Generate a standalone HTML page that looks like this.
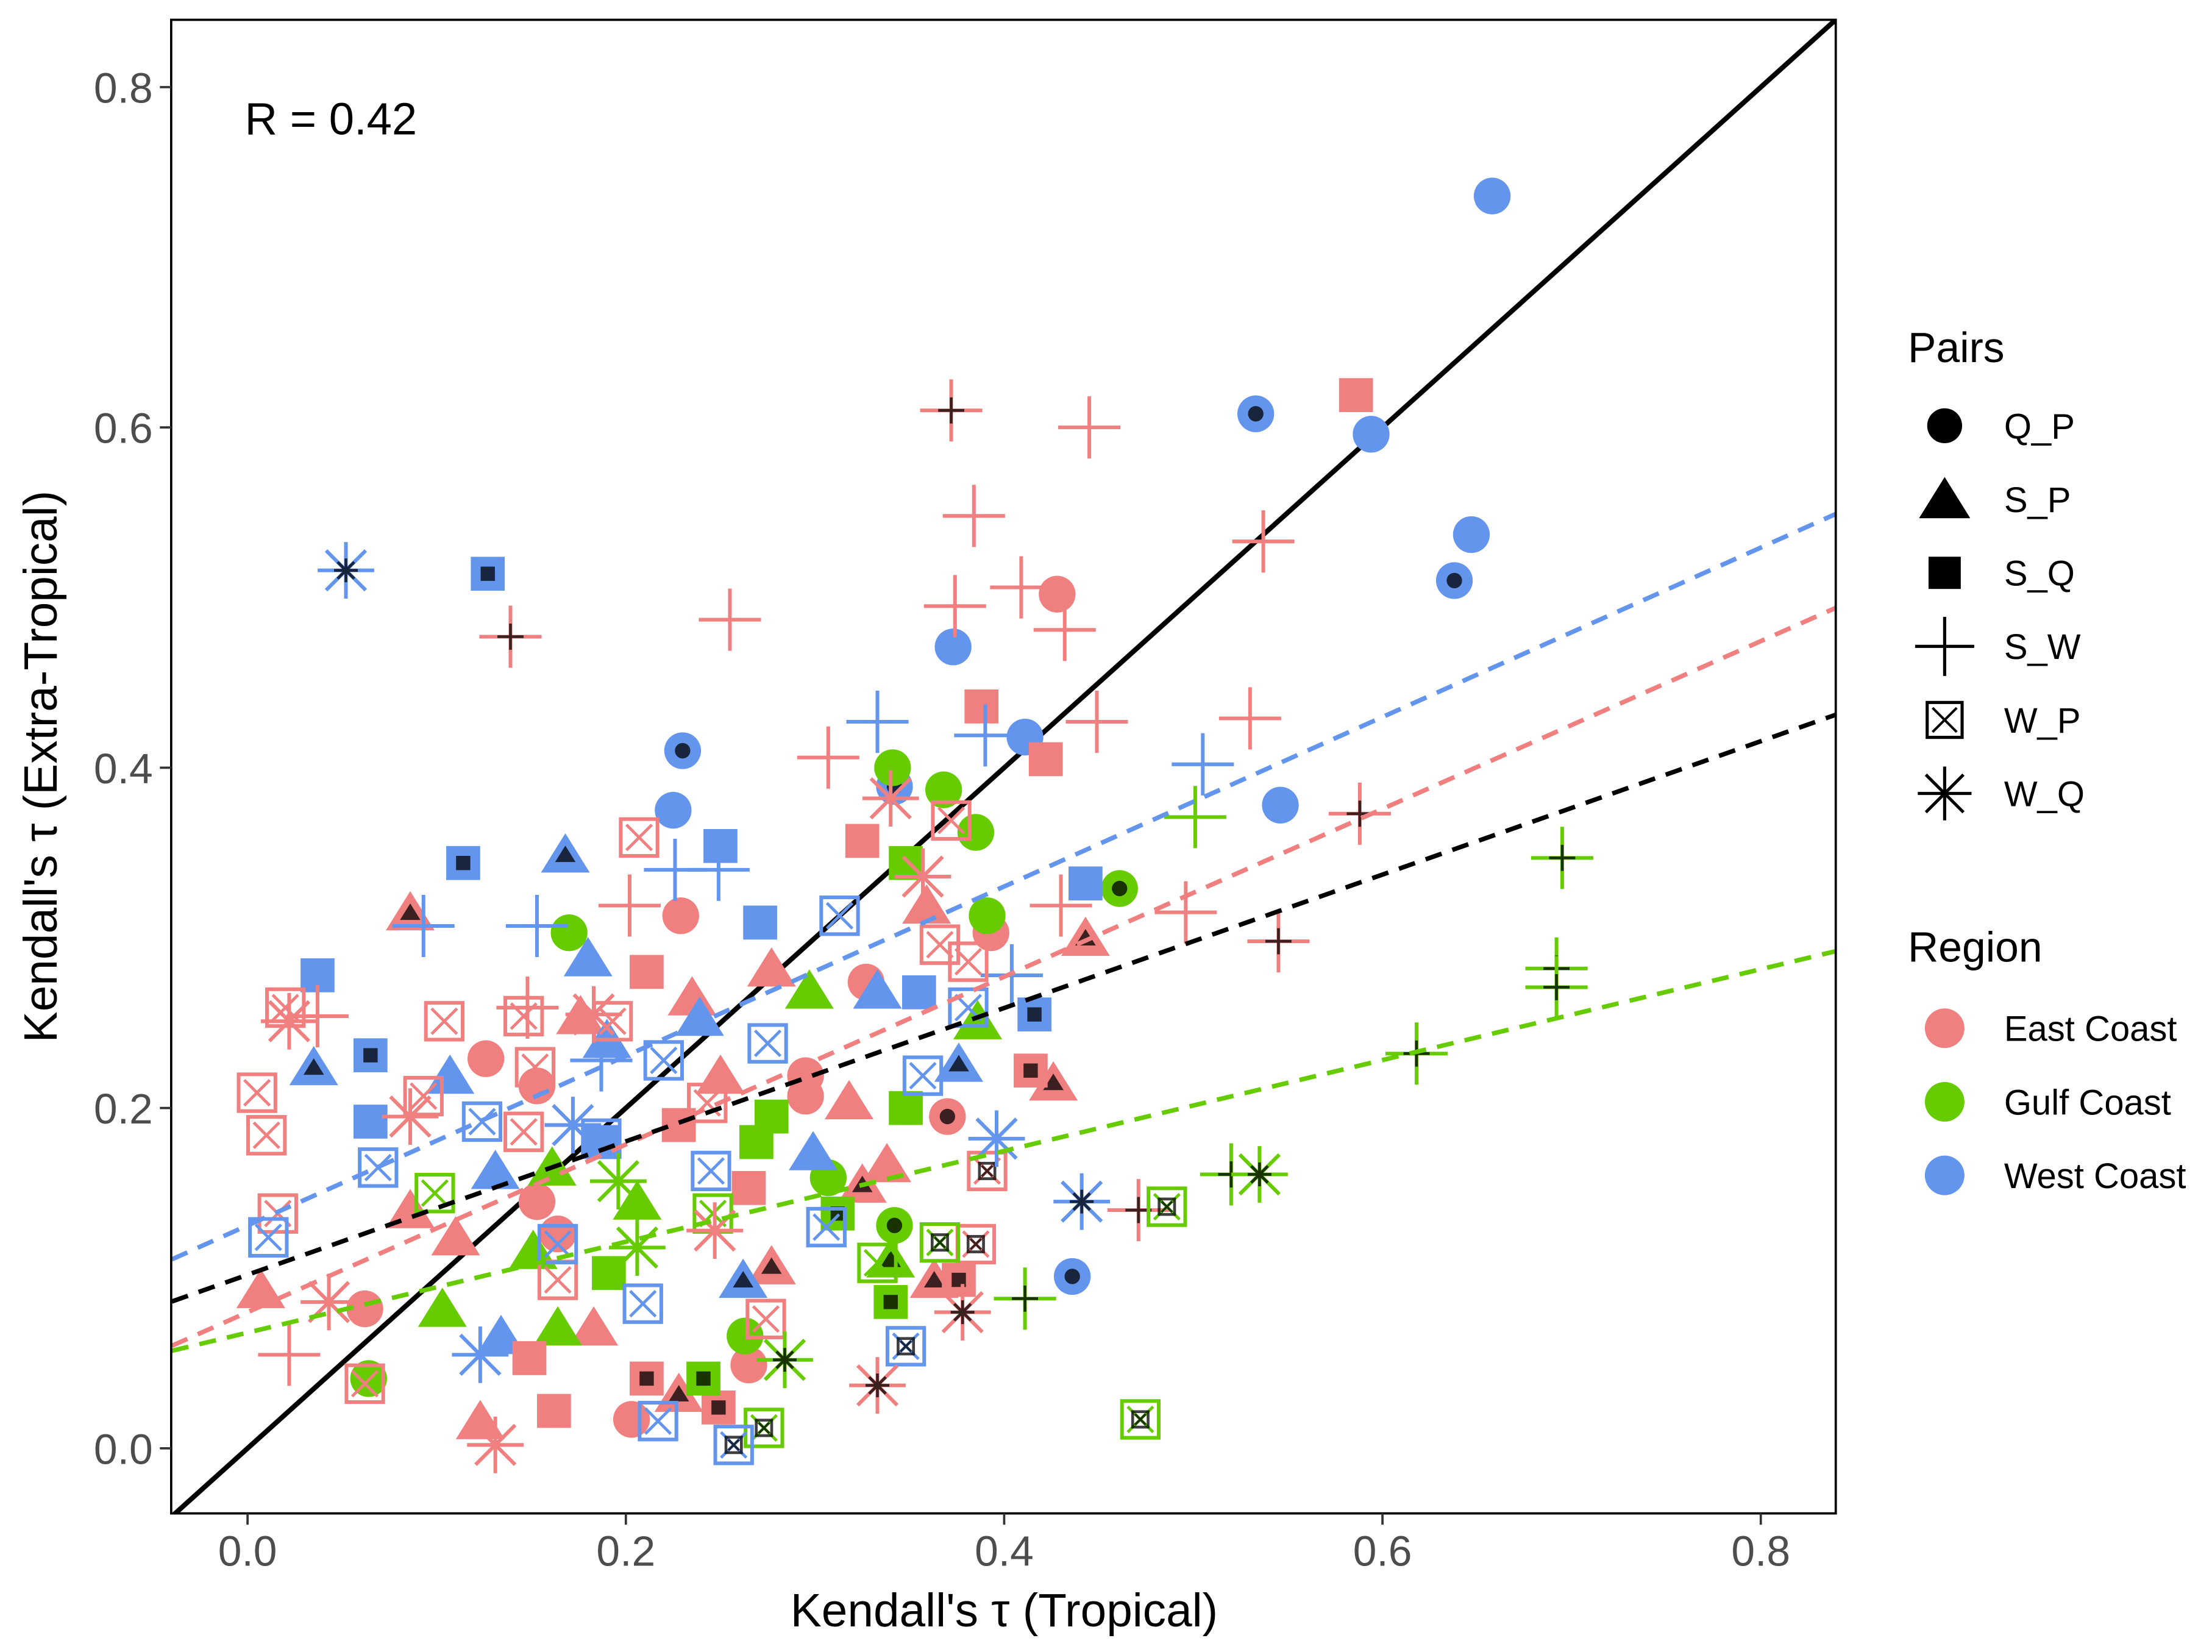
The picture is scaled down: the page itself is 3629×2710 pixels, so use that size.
<!DOCTYPE html>
<html><head><meta charset="utf-8"><style>html,body{margin:0;padding:0;background:#fff}svg{display:block}</style></head>
<body>
<svg id="chart" width="3629" height="2710" viewBox="0 0 1564 1168" xmlns="http://www.w3.org/2000/svg" font-family="Liberation Sans, sans-serif">
<rect width="1564" height="1168" fill="#fff"/>
<defs><clipPath id="pc"><rect x="121" y="14" width="1177" height="1056"/></clipPath></defs>
<g id="plot" clip-path="url(#pc)"></g>
<rect x="121" y="14" width="1177" height="1056" fill="none" stroke="#000" stroke-width="1.6"/>
<g id="axes"></g>
<text x="173" y="95" font-size="32">R =  0.42</text>
<text x="710" y="1150" font-size="33" text-anchor="middle">Kendall's τ (Tropical)</text>
<text transform="translate(40,542) rotate(-90)" font-size="33" text-anchor="middle">Kendall's τ (Extra-Tropical)</text>
<g id="legend"></g>
</svg>
<script>
const xTicks=[0.0,0.2,0.4,0.6,0.8];
const yTicks=[0.0,0.2,0.4,0.6,0.8];
const tickLabels=['0.0','0.2','0.4','0.6','0.8'];
const pairTypes=['Q_P','S_P','S_Q','S_W','W_P','W_Q'];
const regionNames=['East Coast','Gulf Coast','West Coast'];
const regionColors={E:'#F08080',G:'#66CC00',W:'#6495ED'};
const fitIntercepts=[0.131,0.080,0.102,0.068];
const fitSlopes=[0.498,0.493,0.392,0.267];
const fitColors=['#6495ED','#F08080','#000','#66CC00'];
// [tropical, extratropical, pair, region, significant]
const points=[
[0.658,0.736,'Q_P','W',0],[0.594,0.596,'Q_P','W',0],[0.647,0.537,'Q_P','W',0],[0.638,0.510,'Q_P','W',1],[0.533,0.608,'Q_P','W',1],[0.373,0.471,'Q_P','W',0],[0.411,0.418,'Q_P','W',0],[0.546,0.378,'Q_P','W',0],[0.230,0.410,'Q_P','W',1],[0.225,0.375,'Q_P','W',0],[0.342,0.389,'Q_P','W',1],[0.436,0.101,'Q_P','W',1],
[0.428,0.502,'Q_P','E',0],[0.229,0.313,'Q_P','E',0],[0.327,0.274,'Q_P','E',0],[0.393,0.303,'Q_P','E',0],[0.126,0.229,'Q_P','E',0],[0.153,0.213,'Q_P','E',0],[0.062,0.082,'Q_P','E',0],[0.203,0.017,'Q_P','E',0],[0.295,0.219,'Q_P','E',0],[0.295,0.207,'Q_P','E',0],[0.153,0.145,'Q_P','E',0],[0.164,0.126,'Q_P','E',0],[0.265,0.049,'Q_P','E',0],[0.370,0.195,'Q_P','E',1],
[0.341,0.400,'Q_P','G',0],[0.368,0.387,'Q_P','G',0],[0.385,0.362,'Q_P','G',0],[0.170,0.303,'Q_P','G',0],[0.391,0.313,'Q_P','G',0],[0.461,0.329,'Q_P','G',1],[0.307,0.159,'Q_P','G',0],[0.342,0.131,'Q_P','G',1],[0.263,0.066,'Q_P','G',0],[0.064,0.041,'Q_P','G',0],
[0.086,0.315,'S_P','E',1],[0.443,0.300,'S_P','E',1],[0.318,0.204,'S_P','E',0],[0.338,0.167,'S_P','E',0],[0.426,0.215,'S_P','E',1],[0.007,0.093,'S_P','E',0],[0.110,0.124,'S_P','E',0],[0.086,0.140,'S_P','E',0],[0.123,0.016,'S_P','E',0],[0.235,0.265,'S_P','E',0],[0.277,0.282,'S_P','E',0],[0.176,0.254,'S_P','E',0],[0.277,0.107,'S_P','E',1],[0.228,0.032,'S_P','E',1],[0.325,0.155,'S_P','E',1],[0.363,0.099,'S_P','E',1],[0.359,0.319,'S_P','E',0],[0.250,0.219,'S_P','E',0],[0.183,0.071,'S_P','E',0],
[0.103,0.082,'S_P','G',0],[0.164,0.071,'S_P','G',0],[0.297,0.269,'S_P','G',0],[0.386,0.251,'S_P','G',0],[0.206,0.145,'S_P','G',0],[0.340,0.111,'S_P','G',1],[0.151,0.116,'S_P','G',0],[0.161,0.165,'S_P','G',0],
[0.168,0.349,'S_P','W',1],[0.035,0.224,'S_P','W',1],[0.180,0.288,'S_P','W',0],[0.107,0.219,'S_P','W',0],[0.131,0.163,'S_P','W',0],[0.134,0.066,'S_P','W',0],[0.239,0.253,'S_P','W',0],[0.299,0.174,'S_P','W',0],[0.376,0.226,'S_P','W',1],[0.262,0.099,'S_P','W',1],[0.333,0.269,'S_P','W',0],[0.190,0.240,'S_P','W',0],
[0.127,0.514,'S_Q','W',1],[0.250,0.354,'S_Q','W',0],[0.271,0.309,'S_Q','W',0],[0.114,0.344,'S_Q','W',1],[0.037,0.278,'S_Q','W',0],[0.065,0.231,'S_Q','W',1],[0.065,0.192,'S_Q','W',0],[0.187,0.180,'S_Q','W',0],[0.416,0.255,'S_Q','W',1],[0.443,0.332,'S_Q','W',0],[0.355,0.268,'S_Q','W',0],
[0.586,0.619,'S_Q','E',0],[0.388,0.436,'S_Q','E',0],[0.422,0.405,'S_Q','E',0],[0.325,0.357,'S_Q','E',0],[0.211,0.280,'S_Q','E',0],[0.265,0.153,'S_Q','E',0],[0.162,0.022,'S_Q','E',0],[0.149,0.053,'S_Q','E',0],[0.414,0.222,'S_Q','E',1],[0.211,0.041,'S_Q','E',1],[0.249,0.024,'S_Q','E',1],[0.228,0.190,'S_Q','E',0],[0.376,0.099,'S_Q','E',1],
[0.348,0.344,'S_Q','G',0],[0.348,0.200,'S_Q','G',0],[0.277,0.195,'S_Q','G',0],[0.269,0.180,'S_Q','G',0],[0.312,0.138,'S_Q','G',1],[0.241,0.041,'S_Q','G',1],[0.340,0.086,'S_Q','G',1],[0.191,0.103,'S_Q','G',0],
[0.372,0.610,'S_W','E',1],[0.445,0.600,'S_W','E',0],[0.384,0.548,'S_W','E',0],[0.255,0.487,'S_W','E',0],[0.139,0.477,'S_W','E',1],[0.374,0.495,'S_W','E',0],[0.409,0.506,'S_W','E',0],[0.432,0.481,'S_W','E',0],[0.449,0.427,'S_W','E',0],[0.537,0.533,'S_W','E',0],[0.530,0.429,'S_W','E',0],[0.307,0.406,'S_W','E',0],[0.588,0.373,'S_W','E',1],[0.496,0.315,'S_W','E',0],[0.545,0.298,'S_W','E',1],[0.430,0.319,'S_W','E',0],[0.202,0.319,'S_W','E',0],[0.022,0.055,'S_W','E',0],[0.037,0.254,'S_W','E',0],[0.148,0.259,'S_W','E',0],[0.471,0.140,'S_W','E',1],
[0.695,0.347,'S_W','G',1],[0.692,0.282,'S_W','G',1],[0.692,0.271,'S_W','G',1],[0.618,0.232,'S_W','G',1],[0.501,0.371,'S_W','G',0],[0.520,0.161,'S_W','G',1],[0.411,0.088,'S_W','G',1],
[0.333,0.427,'S_W','W',0],[0.390,0.419,'S_W','W',0],[0.505,0.402,'S_W','W',0],[0.226,0.340,'S_W','W',0],[0.093,0.307,'S_W','W',0],[0.153,0.307,'S_W','W',0],[0.249,0.340,'S_W','W',0],[0.404,0.278,'S_W','W',0],[0.187,0.228,'S_W','W',0],
[0.207,0.359,'W_P','E',0],[0.020,0.259,'W_P','E',0],[0.005,0.209,'W_P','E',0],[0.010,0.184,'W_P','E',0],[0.016,0.138,'W_P','E',0],[0.104,0.251,'W_P','E',0],[0.146,0.254,'W_P','E',0],[0.193,0.251,'W_P','E',0],[0.152,0.224,'W_P','E',0],[0.093,0.207,'W_P','E',0],[0.146,0.186,'W_P','E',0],[0.372,0.369,'W_P','E',0],[0.366,0.296,'W_P','E',0],[0.381,0.286,'W_P','E',0],[0.391,0.163,'W_P','E',1],[0.385,0.120,'W_P','E',1],[0.274,0.076,'W_P','E',0],[0.062,0.038,'W_P','E',0],[0.164,0.099,'W_P','E',0],[0.243,0.203,'W_P','E',0],
[0.099,0.150,'W_P','G',0],[0.246,0.138,'W_P','G',0],[0.486,0.142,'W_P','G',1],[0.472,0.017,'W_P','G',1],[0.366,0.121,'W_P','G',1],[0.273,0.012,'W_P','G',1],[0.333,0.109,'W_P','G',0],
[0.313,0.313,'W_P','W',0],[0.124,0.192,'W_P','W',0],[0.069,0.165,'W_P','W',0],[0.011,0.124,'W_P','W',0],[0.187,0.182,'W_P','W',0],[0.220,0.228,'W_P','W',0],[0.275,0.238,'W_P','W',0],[0.245,0.163,'W_P','W',0],[0.357,0.219,'W_P','W',0],[0.381,0.259,'W_P','W',0],[0.306,0.130,'W_P','W',0],[0.209,0.085,'W_P','W',0],[0.217,0.016,'W_P','W',0],[0.257,0.002,'W_P','W',1],[0.348,0.060,'W_P','W',1],[0.164,0.120,'W_P','W',0],
[0.052,0.516,'W_Q','W',1],[0.172,0.190,'W_Q','W',0],[0.123,0.055,'W_Q','W',0],[0.396,0.182,'W_Q','W',0],[0.441,0.145,'W_Q','W',1],
[0.131,0.002,'W_Q','E',0],[0.043,0.086,'W_Q','E',0],[0.022,0.251,'W_Q','E',0],[0.086,0.195,'W_Q','E',0],[0.183,0.255,'W_Q','E',0],[0.357,0.336,'W_Q','E',0],[0.340,0.382,'W_Q','E',0],[0.247,0.128,'W_Q','E',0],[0.333,0.037,'W_Q','E',1],[0.378,0.080,'W_Q','E',1],
[0.535,0.161,'W_Q','G',1],[0.284,0.052,'W_Q','G',1],[0.196,0.157,'W_Q','G',0],[0.206,0.118,'W_Q','G',0]
];
const NS='http://www.w3.org/2000/svg';
const X0=-0.04,X1=0.84,PX0=121,PX1=1298;
function sx(v){return 175+v*1337.5;}
function sy(v){return 1024-v*1203;}
function mk(tag,attrs,parent){const e=document.createElementNS(NS,tag);for(const k in attrs)e.setAttribute(k,attrs[k]);parent.appendChild(e);return e;}
function shape(g,type,cx,cy,s,col,sw){
  if(type==='Q_P') mk('circle',{cx:cx,cy:cy,r:13*s,fill:col},g);
  else if(type==='S_P'){const h=15*s;mk('polygon',{points:`${cx},${cy-h} ${cx+h*1.15},${cy+h*0.85} ${cx-h*1.15},${cy+h*0.85}`,fill:col},g);}
  else if(type==='S_Q') mk('rect',{x:cx-12*s,y:cy-12*s,width:24*s,height:24*s,fill:col},g);
  else if(type==='S_W'){const a=22*s;mk('path',{d:`M${cx-a},${cy}H${cx+a}M${cx},${cy-a}V${cy+a}`,stroke:col,'stroke-width':sw,fill:'none'},g);}
  else if(type==='W_P'){const a=13*s,b=9*s;mk('rect',{x:cx-a,y:cy-a,width:2*a,height:2*a,fill:'none',stroke:col,'stroke-width':sw},g);mk('path',{d:`M${cx-b},${cy-b}L${cx+b},${cy+b}M${cx-b},${cy+b}L${cx+b},${cy-b}`,stroke:col,'stroke-width':sw*0.8},g);}
  else if(type==='W_Q'){const a=20*s,d=14*s;mk('path',{d:`M${cx-a},${cy}H${cx+a}M${cx},${cy-a}V${cy+a}M${cx-d},${cy-d}L${cx+d},${cy+d}M${cx-d},${cy+d}L${cx+d},${cy-d}`,stroke:col,'stroke-width':sw,fill:'none'},g);}
}
const plot=document.getElementById('plot');
// identity line
const idl=mk('line',{x1:sx(X0),y1:sy(X0),x2:sx(X1),y2:sy(X1),stroke:'#000','stroke-width':3.5},plot);


// points
points.forEach((p,i)=>{
  const g=mk('g',{},plot);
  
  
  shape(g,p[2],sx(p[0]),sy(p[1]),1,regionColors[p[3]],2.6);
  if(p[4]){const s=mk('g',{opacity:0.75},g);shape(s,p[2],sx(p[0]),sy(p[1]),0.42,'#000',2);}
});
// fit lines
fitIntercepts.forEach((b,i)=>{
  const m=fitSlopes[i];
  const l=mk('line',{x1:sx(X0),y1:sy(b+m*X0),x2:sx(X1),y2:sy(b+m*X1),stroke:fitColors[i],'stroke-width':3.2,'stroke-dasharray':'12,8'},plot);
  
  
});
// axes
const ax=document.getElementById('axes');
xTicks.forEach((v,i)=>{
  mk('line',{x1:sx(v),y1:1070,x2:sx(v),y2:1078,stroke:'#333','stroke-width':1.6},ax);
  const t=mk('text',{x:sx(v),y:1107,'font-size':30,fill:'#4d4d4d','text-anchor':'middle'},ax);t.textContent=tickLabels[i];
  
  
});
yTicks.forEach((v,i)=>{
  mk('line',{x1:113,y1:sy(v),x2:121,y2:sy(v),stroke:'#333','stroke-width':1.6},ax);
  const t=mk('text',{x:108,y:sy(v)+11,'font-size':30,fill:'#4d4d4d','text-anchor':'end'},ax);t.textContent=tickLabels[i];
  
  
});
// legend
const lg=document.getElementById('legend');
let t=mk('text',{x:1349,y:256,'font-size':30},lg);t.textContent='Pairs';


pairTypes.forEach((p,i)=>{
  const y=301+i*52;const g=mk('g',{},lg);
  
  
  shape(g,p,1375,y,p==='S_P'?1.05:0.95,'#000',2.2);
  const tx=mk('text',{x:1417,y:y+9,'font-size':25},g);tx.textContent=p;
});
t=mk('text',{x:1349,y:680,'font-size':30},lg);t.textContent='Region';


['E','G','W'].forEach((r,i)=>{
  const y=727+i*52;const g=mk('g',{},lg);
  
  
  mk('circle',{cx:1375,cy:y,r:14,fill:regionColors[r]},g);
  const tx=mk('text',{x:1417,y:y+9,'font-size':25},g);tx.textContent=regionNames[i];
});
</script>
</body></html>
